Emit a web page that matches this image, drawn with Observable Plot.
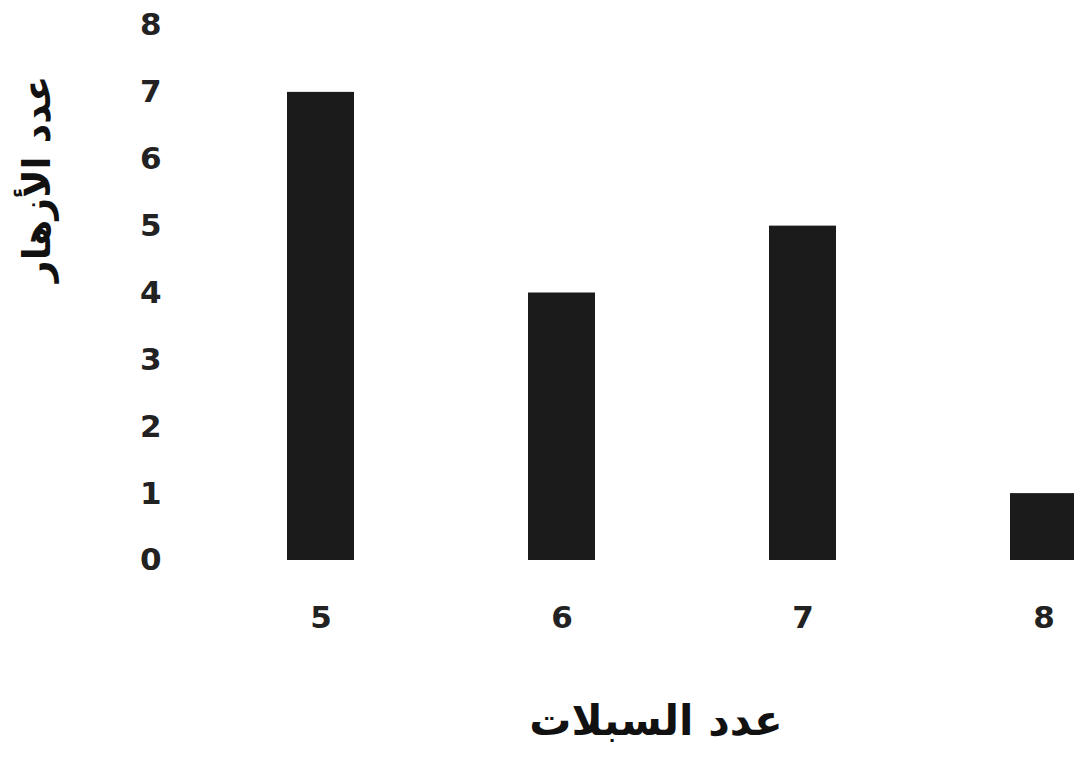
<!DOCTYPE html>
<html>
<head>
<meta charset="utf-8">
<script src="https://cdn.jsdelivr.net/npm/d3@7"></script>
<script src="https://cdn.jsdelivr.net/npm/@observablehq/plot@0.6"></script>
<style>
  html, body { margin: 0; padding: 0; background: #fff; overflow: hidden; }
  #chart svg { overflow: hidden; display: block; }
</style>
</head>
<body>
<div id="chart"></div>
<script>
const sepals = [5, 6, 7, 8];
const flowers = [7, 4, 5, 1];
const yTicks = [0, 1, 2, 3, 4, 5, 6, 7, 8];
const xLabel = "عدد السبلات";
const yLabel = "عدد الأزهار";

const data = sepals.map((s, i) => ({sepals: s, flowers: flowers[i]}));
const font = "'DejaVu Sans', 'Liberation Sans', Arial, sans-serif";

const chart = Plot.plot({
  width: 1074,
  height: 757,
  marginTop: 25,
  marginBottom: 197,
  marginLeft: 165,
  marginRight: 0,
  style: {fontFamily: font, fontWeight: "bold", fontSize: "31px", color: "#222", background: "#fff"},
  x: {type: "band", domain: sepals, range: [199.5, 1163.5], padding: 0, label: null},
  y: {domain: [0, 8], range: [560, 25], label: null},
  marks: [
    Plot.barY(data, {x: "sepals", y: "flowers", fill: "#1b1b1b", insetLeft: 87, insetRight: 87, clip: true}),
    Plot.axisY({ticks: yTicks, tickSize: 0, tickPadding: 4, tickFormat: d3.format("d"), fontSize: 31, fontWeight: "bold", fill: "#222"}),
    Plot.axisX({tickSize: 0, tickPadding: 45, fontSize: 31, fontWeight: "bold", fill: "#222"}),
    Plot.text([xLabel], {frameAnchor: "bottom", dx: 36, dy: 174, fontSize: 42, fontWeight: "bold", fill: "#111", textAnchor: "middle"}),
    Plot.text([yLabel], {frameAnchor: "left", dx: -128, dy: -114, rotate: -90, fontSize: 38, fontWeight: "bold", fill: "#111", textAnchor: "middle"})
  ]
});
document.getElementById("chart").appendChild(chart);
</script>
</body>
</html>
